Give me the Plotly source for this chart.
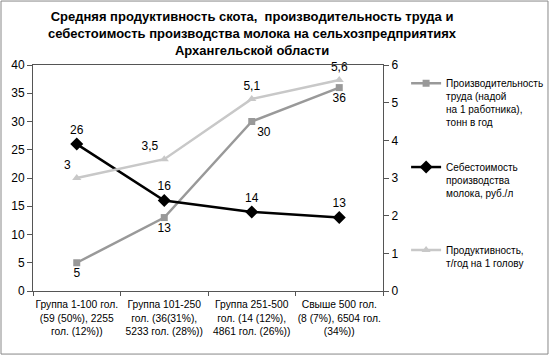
import plotly.graph_objects as go

categories = [
    "Группа 1-100 гол.<br>(59 (50%), 2255<br>гол. (12%))",
    "Группа 101-250<br>гол. (36(31%),<br>5233 гол. (28%))",
    "Группа 251-500<br>гол. (14 (12%),<br>4861 гол. (26%))",
    "Свыше 500 гол.<br>(8 (7%), 6504 гол.<br>(34%))",
]
labor_productivity = [5, 13, 30, 36]
cost = [26, 16, 14, 13]
productivity = [3, 3.5, 5.1, 5.6]
productivity_labels = ["3", "3,5", "5,1", "5,6"]

name_labor = "Производительность<br>труда (надой<br>на 1 работника),<br>тонн в год"
name_cost = "Себестоимость<br>производства<br>молока, руб./л"
name_prod = "Продуктивность,<br>т/год на 1 голову"

FONT = "Liberation Sans, Arial, sans-serif"

fig = go.Figure()

fig.add_trace(go.Scatter(
    x=categories, y=labor_productivity, name=name_labor,
    mode="lines+markers+text", text=[str(v) for v in labor_productivity],
    textposition=["bottom center", "bottom center", "bottom right", "bottom center"],
    line=dict(color="#999999", width=2.5),
    marker=dict(symbol="square", size=7, color="#999999"),
    textfont=dict(size=12, color="#000"),
    legend="legend", cliponaxis=False, showlegend=True,
))
fig.add_trace(go.Scatter(
    x=categories, y=productivity, yaxis="y2", name=name_prod,
    mode="lines+markers+text", text=productivity_labels,
    textposition=["top left", "top left", "top center", "top center"],
    line=dict(color="#c8c8c8", width=2.5),
    marker=dict(symbol="triangle-up", size=8, color="#c8c8c8"),
    textfont=dict(size=12, color="#000"),
    legend="legend3", cliponaxis=False, showlegend=True,
))
fig.add_trace(go.Scatter(
    x=categories, y=cost, name=name_cost,
    mode="lines+markers+text", text=[str(v) for v in cost],
    textposition="top center",
    line=dict(color="#000000", width=2.5),
    marker=dict(symbol="diamond", size=10, color="#000000"),
    textfont=dict(size=12, color="#000"),
    legend="legend2", cliponaxis=False, showlegend=True,
))

leg_common = dict(font=dict(size=10, family=FONT, color="#000"), valign="top",
                  bgcolor="rgba(0,0,0,0)", xanchor="left", yanchor="top", x=1.066)

title_text = ("Средняя продуктивность скота,  производительность труда и<br>"
              "себестоимость производства молока на сельхозпредприятиях<br>"
              "Архангельской области")

AX = "#555"
fig.update_layout(
    width=550, height=356,
    margin=dict(l=33, r=167, t=65, b=65, autoexpand=False),
    paper_bgcolor="white", plot_bgcolor="white",
    font=dict(family=FONT, size=12, color="#000"),
    showlegend=True,
    xaxis=dict(
        type="category", categoryorder="array", categoryarray=categories,
        showline=True, linecolor=AX, linewidth=1, mirror=True,
        ticks="outside", tickson="boundaries", ticklen=4, tickcolor=AX,
        tickfont=dict(size=10.3), tickangle=0, showgrid=False, range=[-0.5, 3.5],
        automargin=False, ticklabelstandoff=4,
    ),
    xaxis2=dict(
        type="category", categoryorder="array", categoryarray=categories,
        overlaying="x", anchor="y", side="bottom", showline=False,
        ticks="inside", tickson="boundaries", ticklen=4, tickcolor=AX,
        showticklabels=False, showgrid=False, range=[-0.5, 3.5], automargin=False,
    ),
    yaxis=dict(
        range=[0, 40], dtick=5, showline=True, linecolor=AX, linewidth=1,
        ticks="outside", ticklen=5, tickcolor=AX, showgrid=False, zeroline=False,
        tickfont=dict(size=12), automargin=False,
    ),
    yaxis3=dict(
        range=[0, 40], dtick=5, overlaying="y", anchor="x", side="left",
        showline=False, ticks="inside", ticklen=4, tickcolor=AX, showgrid=False,
        zeroline=False, showticklabels=False, automargin=False,
    ),
    yaxis2=dict(
        range=[0, 6], dtick=1, overlaying="y", side="right", anchor="x", showline=True,
        linecolor=AX, linewidth=1, ticks="outside", ticklen=5, tickcolor=AX,
        showgrid=False, zeroline=False, tickfont=dict(size=12), automargin=False,
    ),
    yaxis4=dict(
        range=[0, 6], dtick=1, overlaying="y", side="right", anchor="x",
        showline=False, ticks="inside", ticklen=4, tickcolor=AX, showgrid=False,
        zeroline=False, showticklabels=False, automargin=False,
    ),
    legend=dict(**leg_common, y=0.977),
    legend2=dict(**leg_common, y=0.606),
    legend3=dict(**leg_common, y=0.239),
    annotations=[dict(text=title_text, xref="paper", yref="paper", x=0.628, y=1.257,
                      xanchor="center", yanchor="top", showarrow=False,
                      font=dict(size=13, family=FONT, color="#000", weight="bold"))],
    shapes=[dict(type="rect", xref="paper", yref="paper",
                 x0=-0.0914, x1=1.4714, y0=-0.279, y1=1.283,
                 line=dict(color="#888", width=1))],
)

fig.write_html("out.html", config={"displayModeBar": False},
               post_script="document.body.style.margin='0';")
